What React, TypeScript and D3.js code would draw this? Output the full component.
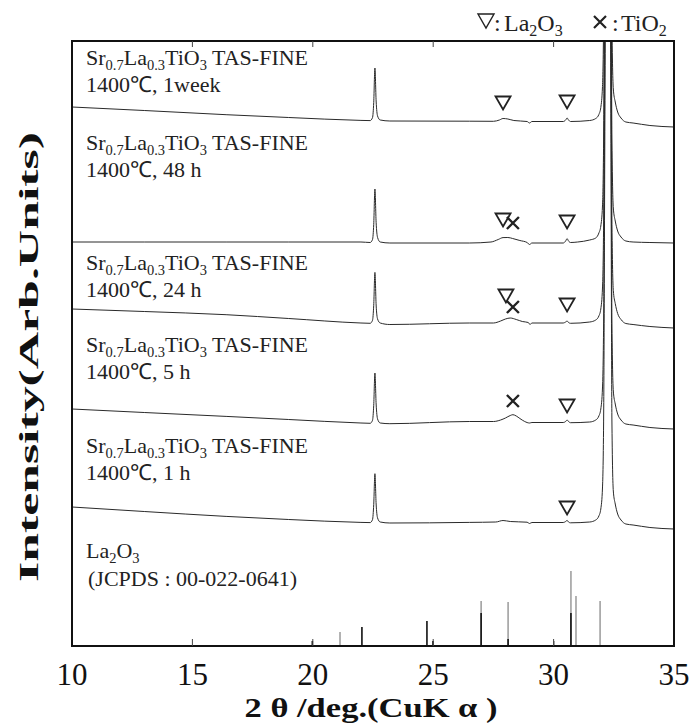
import React from "react";
import * as d3 from "d3";

const W = 692;
const H = 727;
const margin = { left: 72, right: 18, top: 41, bottom: 81 };
const plotRight = W - margin.right;
const plotBottom = H - margin.bottom;

// x axis
const xTicks = [10, 15, 20, 25, 30, 35];

// stacked samples, top to bottom
const sampleLabels = ["1400\u2103, 1week", "1400\u2103, 48 h", "1400\u2103, 24 h", "1400\u2103, 5 h", "1400\u2103, 1 h"];
const offsets = [539, 404, 337, 237, 139];

// [2theta, intensity above offset]
const pattern1week: [number, number][] = [
  [10, 0], [13, -3.5], [16.4, -7.7], [19, -10.5], [22.0, -13.4], [22.38, -13.6], [22.48, -10.6], [22.53, 4.4],
  [22.58, 39], [22.63, 6], [22.69, -9], [22.8, -13], [23.2, -14], [26.5, -14.2], [27.5, -14.3], [27.75, -13],
  [27.9, -11.5], [28.1, -12], [28.35, -13.5], [28.9, -14.5], [29.0, -16], [29.1, -14.5], [30.4, -14.5],
  [30.5, -13], [30.56, -11], [30.62, -13], [30.7, -14.5], [31.5, -13.5], [31.75, -11.5], [31.88, -7.5],
  [31.96, -0.5], [32.03, 20.5], [32.08, 95.5], [32.13, 385], [32.26, 985], [32.38, 383], [32.42, 93],
  [32.48, 18], [32.56, 5], [32.66, -5], [32.8, -11], [33.0, -15], [33.3, -16], [34.0, -18.5], [35, -20],
];
const pattern48h: [number, number][] = [
  [10, 0], [13, 0], [16.4, 0], [19, 0], [22.0, 0], [22.38, -0.5], [22.48, 2.5], [22.53, 17.5],
  [22.58, 53], [22.63, 19.5], [22.69, 4.5], [22.8, 0], [23.2, -1], [26.5, -1], [27.4, 0], [27.7, 2.5],
  [27.9, 4.4], [28.1, 4.5], [28.3, 3.5], [28.6, 1.5], [28.9, -0.5], [29.0, -2.5], [29.1, -1], [30.4, -1],
  [30.5, 1], [30.56, 3.4], [30.62, 1], [30.7, -0.5], [31.0, 0], [31.5, 2], [31.75, 4], [31.88, 9],
  [31.96, 16], [32.03, 36], [32.08, 111], [32.13, 401], [32.26, 1001], [32.38, 399], [32.42, 109],
  [32.48, 34], [32.56, 21], [32.66, 11], [32.8, 5], [33.0, 1], [33.3, 0], [34.0, -0.5], [35, -1],
];
const pattern24h: [number, number][] = [
  [10, 0], [13, -2.5], [16.4, -5.7], [19, -9.5], [22.0, -14], [22.38, -14.3], [22.48, -11.3], [22.53, 3.7],
  [22.58, 36.6], [22.63, 4], [22.69, -10], [22.8, -14], [23.2, -15.5], [26.5, -14], [27.5, -14], [27.8, -12],
  [28.0, -10], [28.2, -9], [28.45, -10.5], [28.7, -12.5], [28.95, -13.5], [29.02, -15.5], [29.1, -14],
  [30.4, -14], [30.5, -13], [30.56, -12], [30.62, -13.5], [30.7, -14.3], [31.5, -13], [31.75, -11],
  [31.88, -7], [31.96, 0], [32.03, 21], [32.08, 96], [32.13, 386], [32.26, 986], [32.38, 383.5],
  [32.42, 93.5], [32.48, 18.5], [32.56, 5.5], [32.66, -4.5], [32.8, -10.5], [33.0, -14.5], [33.3, -15.5],
  [34.0, -17.5], [35, -19],
];
const pattern5h: [number, number][] = [
  [10, 0], [13, -3.5], [16.4, -7.4], [19, -10.5], [22.0, -14], [22.38, -14.3], [22.48, -11.3], [22.53, 3.7],
  [22.58, 36], [22.63, 5], [22.69, -10], [22.8, -14], [23.2, -14.7], [26.5, -12.5], [27.5, -12.5],
  [27.8, -11], [28.0, -9], [28.2, -6.5], [28.31, -5.7], [28.45, -7], [28.6, -9.5], [28.8, -12.5],
  [29.0, -14], [29.1, -13.5], [30.4, -13.5], [30.5, -12.5], [30.56, -11], [30.62, -12.5], [30.7, -13.7],
  [31.5, -13], [31.75, -11], [31.88, -7], [31.96, 0], [32.03, 21], [32.08, 96], [32.13, 386], [32.26, 986],
  [32.38, 383], [32.42, 93], [32.48, 18], [32.56, 5], [32.66, -5], [32.8, -11], [33.0, -15], [33.3, -16],
  [34.0, -18.5], [35, -20],
];
const pattern1h: [number, number][] = [
  [10, 0], [13, -4.5], [16.4, -9.4], [19, -12.5], [22.0, -15.4], [22.38, -15.6], [22.48, -12.6], [22.53, 2.4],
  [22.58, 33.3], [22.63, 3], [22.69, -11], [22.8, -15], [23.2, -16], [26.5, -15.4], [27.6, -15],
  [27.9, -13.5], [28.2, -14.5], [28.9, -15.2], [29.0, -16.5], [29.1, -15.5], [30.4, -15.5], [30.5, -14.5],
  [30.56, -13.4], [30.62, -15], [30.7, -15.8], [31.5, -15], [31.75, -13], [31.88, -9], [31.96, -2],
  [32.03, 19], [32.08, 94], [32.13, 384], [32.26, 984], [32.38, 381], [32.42, 91], [32.48, 16], [32.56, 3],
  [32.66, -7], [32.8, -13], [33.0, -17], [33.3, -18], [34.0, -20.5], [35, -22],
];
const patterns = [pattern1week, pattern48h, pattern24h, pattern5h, pattern1h];

// La2O3 reference (JCPDS 00-022-0641): [2theta, relative intensity]
const refGray: [number, number][] = [
  [21.13, 14], [26.99, 45], [28.11, 44], [30.02, 5], [30.72, 75], [30.93, 50], [31.93, 45],
];
const refBlack: [number, number][] = [
  [19.98, 5], [22.04, 19], [24.74, 25], [24.99, 5], [26.99, 33], [28.11, 7], [30.72, 33],
];

// phase marks: tri = La2O3, x = TiO2; level in same intensity units
const marks = [
  { type: "tri", theta: 27.9, level: 543 },
  { type: "tri", theta: 30.56, level: 544 },
  { type: "tri", theta: 27.9, level: 426 },
  { type: "x", theta: 28.31, level: 423 },
  { type: "tri", theta: 30.56, level: 424 },
  { type: "tri", theta: 28.02, level: 350 },
  { type: "x", theta: 28.31, level: 339 },
  { type: "tri", theta: 30.56, level: 341 },
  { type: "x", theta: 28.31, level: 245 },
  { type: "tri", theta: 30.56, level: 240 },
  { type: "tri", theta: 30.56, level: 138 },
];

const serif = "'Liberation Serif', 'Times New Roman', serif";

const SrLaTiO = ({ x, y }: { x: number; y: number }) => (
  <text x={x} y={y} fontSize={22} fontFamily={serif} fill="#222">
    Sr<tspan dy={5} fontSize={14.5}>0.7</tspan>
    <tspan dy={-5}>La</tspan>
    <tspan dy={5} fontSize={14.5}>0.3</tspan>
    <tspan dy={-5}>TiO</tspan>
    <tspan dy={5} fontSize={14.5}>3</tspan>
    <tspan dy={-5}> TAS-FINE</tspan>
  </text>
);

export default function App() {
  const x = d3.scaleLinear().domain([10, 35]).range([margin.left, plotRight]);
  const y = d3.scaleLinear().domain([0, plotBottom - margin.top]).range([plotBottom, margin.top]);

  const labelTops = [65, 150, 270, 352, 453];

  const tri = "M-7.5,-6.5L7.5,-6.5L0,6.5Z";
  const cross = "M-6,-6L6,6M-6,6L6,-6";

  return (
    <svg
      width={W}
      height={H}
      style={{ position: "absolute", left: 0, top: 0, background: "#fff" }}
    >
      <defs>
        <clipPath id="plotClip">
          <rect x={margin.left} y={margin.top} width={plotRight - margin.left} height={plotBottom - margin.top} />
        </clipPath>
      </defs>

      {/* traces */}
      <g clipPath="url(#plotClip)">
        {patterns.map((p, i) => {
          const line = d3
            .line<[number, number]>()
            .x((d) => x(d[0]))
            .y((d) => y(offsets[i] + d[1]))
            .curve(d3.curveMonotoneX);
          return <path key={i} d={line(p) || ""} fill="none" stroke="#2a2a2a" strokeWidth={1} />;
        })}
        {refGray.map((d, i) => (
          <line key={"g" + i} x1={x(d[0])} x2={x(d[0])} y1={y(0)} y2={y(d[1])} stroke="#9a9a9a" strokeWidth={1.5} />
        ))}
        {refBlack.map((d, i) => (
          <line key={"b" + i} x1={x(d[0])} x2={x(d[0])} y1={y(0)} y2={y(d[1])} stroke="#111" strokeWidth={1.6} />
        ))}
      </g>

      {/* phase marks */}
      {marks.map((m, i) => (
        <path
          key={i}
          transform={`translate(${x(m.theta)},${y(m.level)})`}
          d={m.type === "tri" ? tri : cross}
          fill="none"
          stroke="#222"
          strokeWidth={m.type === "tri" ? 1.8 : 2.4}
        />
      ))}

      {/* sample labels */}
      {sampleLabels.map((s, i) => (
        <g key={i}>
          <SrLaTiO x={86} y={labelTops[i]} />
          <text x={86} y={labelTops[i] + 27} fontSize={22} fontFamily={serif} fill="#222">
            {s}
          </text>
        </g>
      ))}
      <text x={86} y={558} fontSize={22} fontFamily={serif} fill="#222">
        La<tspan dy={5} fontSize={14.5}>2</tspan>
        <tspan dy={-5}>O</tspan>
        <tspan dy={5} fontSize={14.5}>3</tspan>
      </text>
      <text x={88} y={586} fontSize={22} fontFamily={serif} fill="#222">
        (JCPDS : 00-022-0641)
      </text>

      {/* frame and ticks */}
      <rect
        x={margin.left}
        y={margin.top}
        width={plotRight - margin.left}
        height={plotBottom - margin.top}
        fill="none"
        stroke="#111"
        strokeWidth={2}
      />
      {xTicks.slice(1, -1).map((t) => (
        <g key={t} stroke="#444" strokeWidth={1}>
          <line x1={x(t)} x2={x(t)} y1={plotBottom} y2={plotBottom - 7} />
          <line x1={x(t)} x2={x(t)} y1={margin.top} y2={margin.top + 6} />
        </g>
      ))}
      {xTicks.map((t) => (
        <text key={t} x={x(t)} y={685} fontSize={31} fontFamily={serif} textAnchor="middle" fill="#111">
          {t}
        </text>
      ))}

      {/* axis titles */}
      <text
        x={371}
        y={717}
        fontSize={28}
        fontWeight="bold"
        fontFamily={serif}
        textAnchor="middle"
        textLength={253}
        lengthAdjust="spacingAndGlyphs"
        fill="#111"
      >
        2 θ /deg.(CuK α )
      </text>
      <text
        transform="translate(38,357) rotate(-90)"
        fontSize={28}
        fontWeight="bold"
        fontFamily={serif}
        textAnchor="middle"
        textLength={450}
        lengthAdjust="spacingAndGlyphs"
        fill="#111"
      >
        Intensity(Arb.Units)
      </text>

      {/* phase legend */}
      <path d="M478,14L494,14L486,28Z" fill="none" stroke="#222" strokeWidth={1.4} />
      <text x={494} y={31} fontSize={24} fontFamily={serif} fill="#222">
        :
      </text>
      <text x={504} y={31} fontSize={24} fontFamily={serif} fill="#222">
        La<tspan dy={5} fontSize={16}>2</tspan>
        <tspan dy={-5}>O</tspan>
        <tspan dy={5} fontSize={16}>3</tspan>
      </text>
      <path d="M594,16L606,28M594,28L606,16" fill="none" stroke="#222" strokeWidth={2.2} />
      <text x={612} y={31} fontSize={24} fontFamily={serif} fill="#222">
        :
      </text>
      <text x={621} y={31} fontSize={24} fontFamily={serif} fill="#222">
        TiO<tspan dy={5} fontSize={16}>2</tspan>
      </text>
    </svg>
  );
}
